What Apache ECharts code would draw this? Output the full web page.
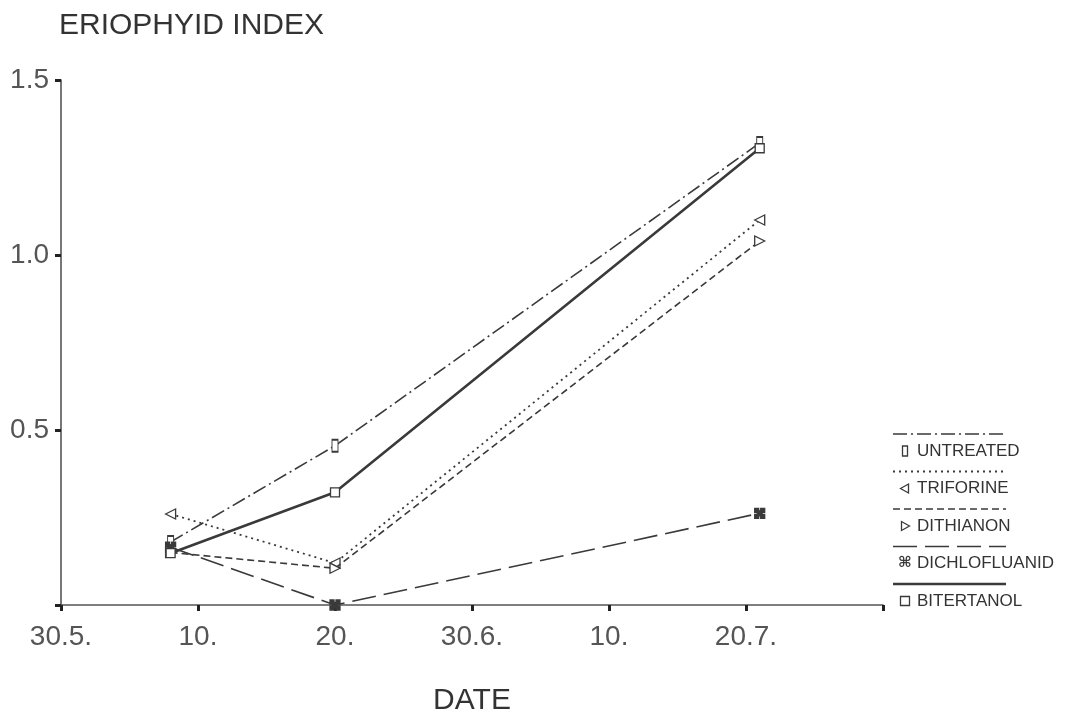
<!DOCTYPE html>
<html>
<head>
<meta charset="utf-8">
<script src="https://cdn.jsdelivr.net/npm/echarts@6/dist/echarts.min.js"></script>
<style>html,body{margin:0;padding:0;background:#fff;}#c{width:1065px;height:714px;}</style>
</head>
<body>
<div id="c"></div>
<script>
// days after 30 May (axis treated as 10-day steps)
const dates = [8, 20, 51];
const xTickLabels = ['30.5.', '10.', '20.', '30.6.', '10.', '20.7.', ''];
const seriesNames = ['UNTREATED', 'TRIFORINE', 'DITHIANON', 'DICHLOFLUANID', 'BITERTANOL'];
const untreated = [0.18, 0.455, 1.32];
const triforine = [0.26, 0.12, 1.10];
const dithianon = [0.15, 0.105, 1.04];
const dichlofluanid = [0.165, 0.0, 0.262];
const bitertanol = [0.148, 0.322, 1.305];

const ink = '#3a3a3a';
const cmdPath = 'path://M0,0h4v4h-4z M6,0h4v4h-4z M0,6h4v4h-4z M6,6h4v4h-4z M2.5,2.5h5v5h-5z';
const styles = [
  {data: untreated, dash: [14, 4, 2, 4], width: 1.6, symbol: 'rect', size: [6, 12], rot: 0, fill: '#fff'},
  {data: triforine, dash: [2, 4], width: 1.8, symbol: 'triangle', size: 10, rot: 90, fill: '#fff'},
  {data: dithianon, dash: [7, 4], width: 1.6, symbol: 'triangle', size: 10, rot: -90, fill: '#fff'},
  {data: dichlofluanid, dash: [24, 8], width: 1.6, symbol: cmdPath, size: 10, rot: 0, fill: ink},
  {data: bitertanol, dash: 'solid', width: 2.6, symbol: 'rect', size: 9, rot: 0, fill: '#fff'}
];

const series = styles.map((s, i) => ({
  name: seriesNames[i],
  type: 'line',
  data: dates.map((d, j) => [d, s.data[j]]),
  symbol: s.symbol,
  symbolSize: s.size,
  symbolRotate: s.rot,
  showAllSymbol: true,
  lineStyle: {color: ink, width: s.width, type: s.dash},
  itemStyle: {color: s.fill, borderColor: ink, borderWidth: 1.3},
  z: 2 + i,
  animation: false
}));

// legend (line above, symbol + label below)
const legendGraphics = [];
const legendSymbols = [
  {type: 'rect', shape: {x: -2.5, y: -5, width: 5, height: 10}},
  {type: 'polygon', shape: {points: [[-4.5, 0], [3.5, -4.5], [3.5, 4.5]]}},
  {type: 'polygon', shape: {points: [[4.5, 0], [-3.5, -4.5], [-3.5, 4.5]]}},
  null,
  {type: 'rect', shape: {x: -4.5, y: -4.5, width: 9, height: 9}}
];
seriesNames.forEach((n, i) => {
  const yl = 434 + i * 37.5;
  const yt = 451 + i * 37.5;
  legendGraphics.push({
    type: 'line', shape: {x1: 893, y1: yl, x2: 1006, y2: yl},
    style: {stroke: ink, lineWidth: styles[i].width, lineDash: styles[i].dash === 'solid' ? null : styles[i].dash}
  });
  if (legendSymbols[i]) {
    legendGraphics.push(Object.assign({}, legendSymbols[i], {x: 905, y: yt,
      style: {fill: '#fff', stroke: ink, lineWidth: 1.3}}));
  } else {
    legendGraphics.push({type: 'text', x: 905, y: yt,
      style: {text: '⌘', font: 'bold 15px "DejaVu Sans"', fill: ink, align: 'center', verticalAlign: 'middle'}});
  }
  legendGraphics.push({type: 'text', x: 917, y: yt,
    style: {text: n, font: '17px "Liberation Sans"', fill: '#333', verticalAlign: 'middle'}});
});

const chart = echarts.init(document.getElementById('c'));
chart.setOption({
  animation: false,
  backgroundColor: '#fff',
  title: {
    text: 'ERIOPHYID INDEX', left: 54, top: 6,
    textStyle: {fontFamily: 'Liberation Sans', fontSize: 30, fontWeight: 'normal', color: '#333'}
  },
  grid: {left: 61, right: 182, top: 80, bottom: 109, containLabel: false, outerBoundsMode: 'none'},
  xAxis: {
    type: 'value', min: 0, max: 60, interval: 10,
    name: 'DATE', nameLocation: 'middle', nameGap: 81,
    nameTextStyle: {fontFamily: 'Liberation Sans', fontSize: 30, color: '#333'},
    axisLine: {lineStyle: {color: '#555', width: 1.6}},
    axisTick: {show: true, length: 6, inside: false, lineStyle: {color: '#222', width: 3}},
    splitLine: {show: false},
    axisLabel: {
      margin: 18, fontFamily: 'Liberation Sans Narrow, Liberation Sans', fontSize: 28, color: '#555',
      formatter: v => xTickLabels[Math.round(v / 10)] || ''
    }
  },
  yAxis: {
    type: 'value', min: 0, max: 1.5, interval: 0.5,
    axisLine: {show: true, lineStyle: {color: '#555', width: 1.6}},
    axisTick: {show: true, length: 6, lineStyle: {color: '#222', width: 3}},
    splitLine: {show: false},
    axisLabel: {
      margin: 12, fontFamily: 'Liberation Sans Narrow, Liberation Sans', fontSize: 28, color: '#555',
      formatter: v => v === 0 ? '' : v.toFixed(1)
    }
  },
  series: series,
  graphic: legendGraphics
});
</script>
</body>
</html>
